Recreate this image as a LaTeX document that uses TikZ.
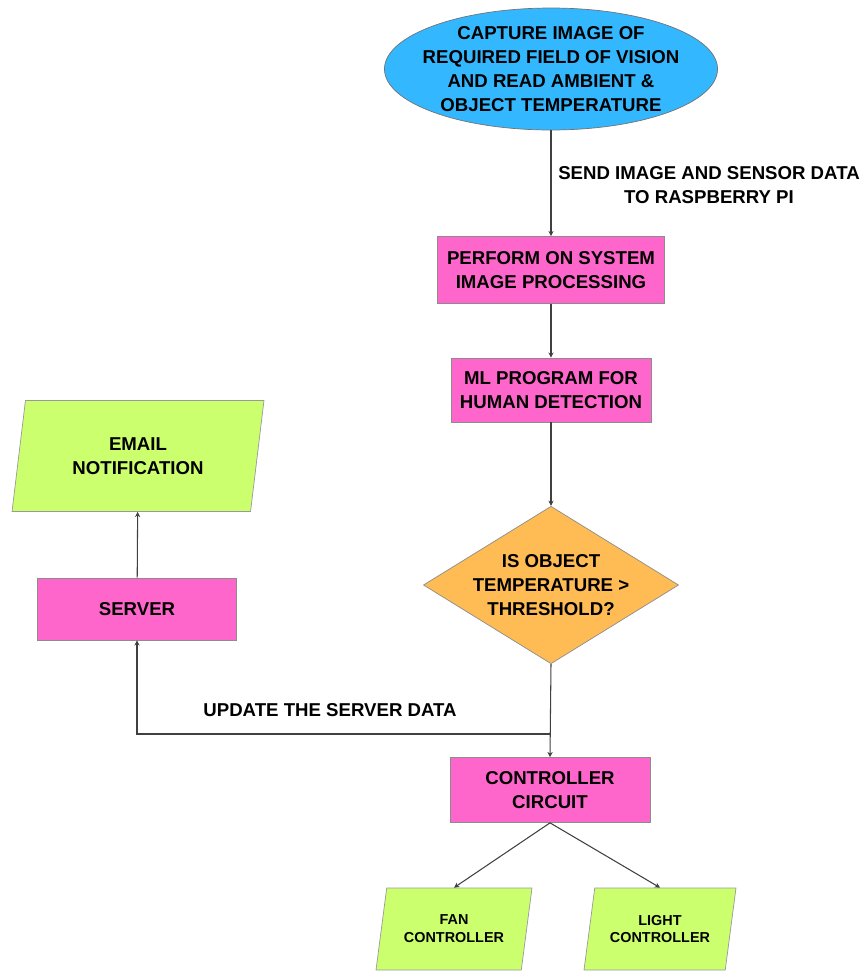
\documentclass[tikz,border=0pt]{standalone}
\usepackage{fontspec}
\setmainfont{Liberation Sans}
\usetikzlibrary{arrows.meta, positioning, shapes.geometric}
\definecolor{SkyBlue}{RGB}{51, 183, 255}
\definecolor{HotPink}{RGB}{255, 102, 204}
\definecolor{Amber}{RGB}{255, 187, 84}
\definecolor{Lime}{RGB}{204, 255, 110}

\begin{document}
\begin{tikzpicture}[x=0.02cm, y=-0.02cm,
    every node/.style={font=\fontsize{10.6}{13.6}\selectfont\bfseries, align=center},
    startnode/.style={ellipse, draw=black!55, fill=SkyBlue, minimum width=6.66cm,
                      minimum height=2.44cm, inner xsep=-6pt, inner ysep=0pt},
    procbox/.style={rectangle, draw=black!45, fill=HotPink, inner sep=2pt},
    decision/.style={diamond, draw=black!45, fill=Amber, minimum width=5.06cm,
                     minimum height=3.12cm, shape aspect=1.62, inner sep=0pt},
    iobox/.style={trapezium, trapezium left angle=73, trapezium right angle=107,
                  trapezium stretches body, draw=black!40, fill=Lime, inner sep=2pt},
    smalltext/.style={font=\fontsize{8.2}{10.2}\selectfont\bfseries},
    arrow/.style={-{Stealth[length=3pt, width=3pt]}, draw=black!75, line width=0.6pt}]

\useasboundingbox (0,0) rectangle (861,971);

% main column
\node[startnode] (capture) at (551,69) {CAPTURE IMAGE OF\\REQUIRED FIELD OF VISION\\AND READ AMBIENT \&\\OBJECT TEMPERATURE};
\node[procbox, minimum width=4.54cm, minimum height=1.34cm] (process) at (551,270) {PERFORM ON SYSTEM\\IMAGE PROCESSING};
\node[procbox, minimum width=4cm, minimum height=1.28cm] (ml) at (551,390) {ML PROGRAM FOR\\HUMAN DETECTION};
\node[decision] (check) at (551,585) {IS OBJECT\\TEMPERATURE >\\THRESHOLD?};
\node[procbox, minimum width=4cm, minimum height=1.3cm] (ctrl) at (550,790) {CONTROLLER\\CIRCUIT};

% left branch
\node[procbox, minimum width=3.98cm, minimum height=1.24cm] (server) at (137,609) {SERVER};
\node[iobox, minimum width=5.04cm, minimum height=2.22cm] (email) at (138,456) {EMAIL\\NOTIFICATION};

% outputs
\node[iobox, smalltext, minimum width=3.12cm, minimum height=1.64cm] (fan) at (454,929) {FAN\\CONTROLLER};
\node[iobox, smalltext, minimum width=3.04cm, minimum height=1.64cm] (light) at (660,929) {LIGHT\\CONTROLLER};

% labels
\node (sendlbl) at (709,185) {SEND IMAGE AND SENSOR DATA\\TO RASPBERRY PI};
\node (updlbl) at (330,710) {UPDATE THE SERVER DATA};
\coordinate (split) at (550,734);

\draw[arrow] (capture) -- (process);
\draw[arrow] (process) -- (ml);
\draw[arrow] (ml) -- (check);
\draw[arrow] (check.south) -- (ctrl.north);
\draw[arrow] (split) -| (server);
\draw[arrow] (server) -- (email);
\draw[arrow] (ctrl.south) -- (fan.north);
\draw[arrow] (ctrl.south) -- (light.north);
\end{tikzpicture}
\end{document}
